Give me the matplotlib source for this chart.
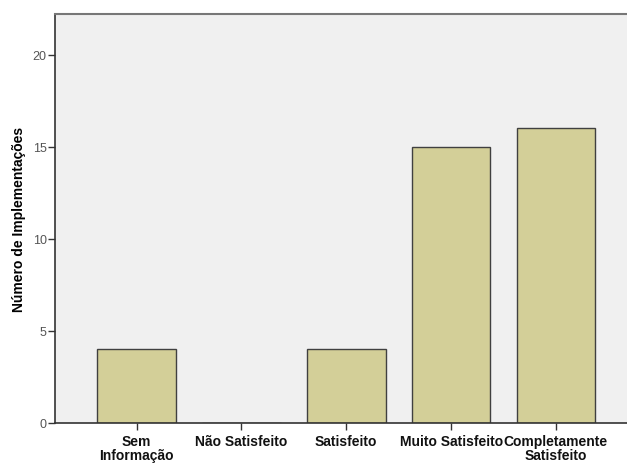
import matplotlib.pyplot as plt

categories = ["Sem\nInformação", "Não Satisfeito", "Satisfeito", "Muito Satisfeito", "Completamente\nSatisfeito"]
counts = [4, 0, 4, 15, 16]
yticks = [0, 5, 10, 15, 20]

plt.rcParams['font.family'] = ['Liberation Sans', 'DejaVu Sans']

fig = plt.figure(figsize=(6.27, 4.64), dpi=100)
ax = fig.add_axes([55 / 627, 40 / 464, 1.0 - 55 / 627 + 0.002, 409 / 464])
ax.set_facecolor('#f0f0f0')

x = list(range(len(categories)))
ax.bar(x, counts, width=0.75, color='#d3cf98', edgecolor='#404040', linewidth=1.0, zorder=2)

ax.set_xlim(-0.778, 4.69)
ax.set_ylim(0, 22.2)
ax.set_xticks(x)
ax.set_xticklabels(categories, fontsize=10, fontweight='bold', color='#111111', linespacing=0.95)
ax.set_yticks(yticks)
ax.set_yticklabels([str(v) for v in yticks], fontsize=9, color='#555555')
ax.tick_params(axis='x', length=5, width=1, color='#333333', pad=3)
ax.tick_params(axis='y', length=5, width=1, color='#333333', pad=1)

ax.set_ylabel("Número de Implementações", fontsize=10, fontweight='bold', labelpad=5)

for side in ['left', 'bottom']:
    ax.spines[side].set_color('#333333')
    ax.spines[side].set_linewidth(1.2)
ax.spines['top'].set_color('#777777')
ax.spines['top'].set_linewidth(1.5)
ax.spines['right'].set_visible(False)

fig.savefig('out.png', dpi=100, facecolor='white')
